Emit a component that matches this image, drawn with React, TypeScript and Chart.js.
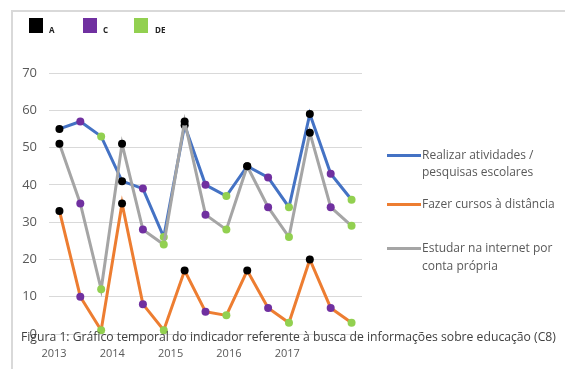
import React, { useEffect, useRef } from 'react';
import { Chart, registerables } from 'chart.js';

Chart.register(...registerables);

// ---- Data ----
const years = ['2013', '2014', '2015', '2016', '2017'];
const classes = ['A', 'C', 'DE'];
const categories = years.flatMap((y) => classes.map((c) => `${y} ${c}`));

const realizarAtividades = [55, 57, 53, 41, 39, 26, 56, 40, 37, 45, 42, 34, 59, 43, 36];
const fazerCursos = [33, 10, 1, 35, 8, 1, 17, 6, 5, 17, 7, 3, 20, 7, 3];
const estudarInternet = [51, 35, 12, 51, 28, 24, 57, 32, 28, 45, 34, 26, 54, 34, 29];

const seriesNames = [
  ['Realizar atividades /', 'pesquisas escolares'],
  ['Fazer cursos à distância'],
  ['Estudar na internet por', 'conta própria'],
];
const seriesColors = ['#4472C4', '#ED7D31', '#A5A5A5'];
const classColors = ['#000000', '#7030A0', '#92D050'];

const caption =
  'Figura 1: Gráfico temporal do indicador referente à busca de informações sobre educação (C8)';

const FONT = '"Open Sans", "Noto Sans", sans-serif';

export default function App() {
  const ref = useRef<HTMLCanvasElement | null>(null);

  useEffect(() => {
    if (!ref.current) return;
    const pointColors = categories.map((_, i) => classColors[i % classes.length]);
    const mk = (label: string, data: number[], color: string, order: number) => ({
      label,
      data,
      xAxisID: 'x',
      yAxisID: 'y',
      borderColor: color,
      backgroundColor: color,
      borderWidth: 3,
      tension: 0,
      pointRadius: 4,
      pointBorderWidth: 0,
      pointBackgroundColor: pointColors,
      pointBorderColor: pointColors,
      order,
    });
    const chart = new Chart(ref.current, {
      type: 'line',
      data: {
        labels: categories,
        datasets: [
          mk(seriesNames[0].join(' '), realizarAtividades, seriesColors[0], 2),
          mk(seriesNames[1].join(' '), fazerCursos, seriesColors[1], 1),
          mk(seriesNames[2].join(' '), estudarInternet, seriesColors[2], 0),
        ],
      },
      options: {
        animation: false,
        responsive: false,
        layout: { padding: { top: 73, right: 203, left: 0, bottom: 0 } },
        plugins: { legend: { display: false }, tooltip: { enabled: false } },
        scales: {
          x: { type: 'category', display: false, offset: true },
          x2: {
            type: 'linear',
            position: 'bottom',
            min: -0.086,
            max: 5.283,
            grid: { display: false, drawTicks: false },
            border: { display: false },
            afterBuildTicks: (s: any) => {
              s.ticks = years.map((_, i) => ({ value: i }));
            },
            ticks: {
              autoSkip: false,
              maxRotation: 0,
              padding: 13,
              color: '#595959',
              font: { family: FONT, size: 11 },
              callback: (v: any) => years[v as number] ?? '',
            },
            afterFit: (s: any) => {
              s.height = 35;
            },
          },
          y: {
            min: 0,
            max: 70,
            grid: { color: '#d9d9d9', lineWidth: 1, drawTicks: false },
            border: { display: false },
            ticks: {
              stepSize: 10,
              padding: 12,
              color: '#595959',
              font: { family: FONT, size: 13 },
            },
            afterFit: (s: any) => {
              s.width = 49;
            },
          },
        },
      },
    } as any);
    return () => chart.destroy();
  }, []);

  const abs = (o: React.CSSProperties): React.CSSProperties => ({ position: 'absolute', ...o });
  const legendTops = [145.9, 194.9, 239.2];
  const lineTops = [153.5, 202.5, 246.5];
  const topLegendX = [29, 83, 134];
  const topLabelX = [49, 103, 155];

  return (
    <div
      style={{
        position: 'fixed',
        left: 0,
        top: 0,
        width: 565,
        height: 369,
        background: '#ffffff',
        overflow: 'hidden',
        fontFamily: FONT,
      }}
    >
      <div
        style={abs({
          left: 11,
          top: 10,
          width: 560,
          height: 365,
          borderTop: '2px solid #d9d9d9',
          borderLeft: '2px solid #d9d9d9',
        })}
      />
      <canvas ref={ref} width={565} height={369} style={abs({ left: 0, top: 0, width: 565, height: 369 })} />
      {classes.map((c, i) => (
        <React.Fragment key={c}>
          <div style={abs({ left: topLegendX[i], top: 18, width: 14, height: 15, background: classColors[i] })} />
          <div
            style={abs({
              left: topLabelX[i],
              top: 25,
              fontSize: 8,
              lineHeight: '10px',
              fontWeight: 700,
              color: '#222222',
              whiteSpace: 'nowrap',
            })}
          >
            {c}
          </div>
        </React.Fragment>
      ))}
      {seriesNames.map((lines, i) => (
        <React.Fragment key={i}>
          <div style={abs({ left: 387, top: lineTops[i], width: 34, height: 3, background: seriesColors[i] })} />
          <div
            style={abs({
              left: 422,
              top: legendTops[i],
              fontSize: 12,
              lineHeight: '17.5px',
              color: '#595959',
              whiteSpace: 'nowrap',
            })}
          >
            {lines.map((l, j) => (
              <div key={j}>{l}</div>
            ))}
          </div>
        </React.Fragment>
      ))}
      <div
        style={abs({
          left: 21,
          top: 329,
          fontSize: 12.2,
          lineHeight: '16px',
          color: '#404040',
          whiteSpace: 'nowrap',
        })}
      >
        {caption}
      </div>
    </div>
  );
}
